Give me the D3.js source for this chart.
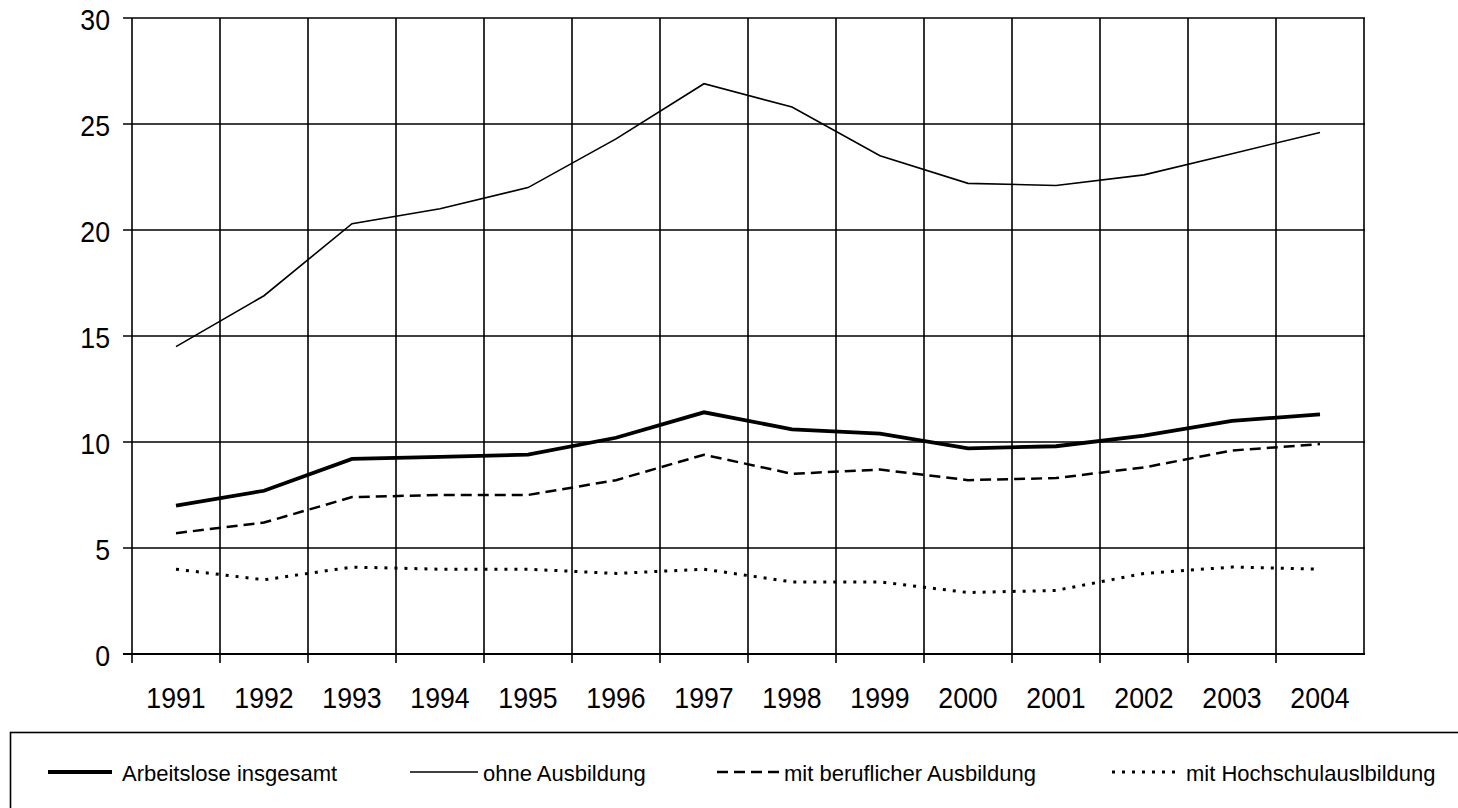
<!DOCTYPE html>
<html>
<head>
<meta charset="utf-8">
<script src="https://cdn.jsdelivr.net/npm/d3@7"></script>
<style>
  html, body { margin: 0; padding: 0; background: #fff; }
  svg { display: block; }
  text { font-family: "Liberation Sans", Arial, sans-serif; fill: #000; }
</style>
</head>
<body>
<svg id="chart" width="1458" height="808"></svg>
<script>
const years = [1991, 1992, 1993, 1994, 1995, 1996, 1997, 1998, 1999, 2000, 2001, 2002, 2003, 2004];
const insgesamt = [7.0, 7.7, 9.2, 9.3, 9.4, 10.2, 11.4, 10.6, 10.4, 9.7, 9.8, 10.3, 11.0, 11.3];
const ohneAusbildung = [14.5, 16.9, 20.3, 21.0, 22.0, 24.3, 26.9, 25.8, 23.5, 22.2, 22.1, 22.6, 23.6, 24.6];
const beruflicheAusbildung = [5.7, 6.2, 7.4, 7.5, 7.5, 8.2, 9.4, 8.5, 8.7, 8.2, 8.3, 8.8, 9.6, 9.9];
const hochschulAusbildung = [4.0, 3.5, 4.1, 4.0, 4.0, 3.8, 4.0, 3.4, 3.4, 2.9, 3.0, 3.8, 4.1, 4.0];
const yTicks = [0, 5, 10, 15, 20, 25, 30];
const seriesNames = ["Arbeitslose insgesamt", "ohne Ausbildung", "mit beruflicher Ausbildung", "mit Hochschulauslbildung"];

const series = [
  { name: seriesNames[0], values: insgesamt, width: 3.8, dash: null },
  { name: seriesNames[1], values: ohneAusbildung, width: 1.6, dash: null },
  { name: seriesNames[2], values: beruflicheAusbildung, width: 2.5, dash: "11,6" },
  { name: seriesNames[3], values: hochschulAusbildung, width: 3, dash: "3,7" }
];

const svg = d3.select("#chart");
const pLeft = 132, pRight = 1364, pTop = 18, pBottom = 654;

const x = d3.scaleBand().domain(years).range([pLeft, pRight]).padding(0);
const y = d3.scaleLinear().domain([0, 30]).range([pBottom, pTop]);
const cx = d => x(d) + x.bandwidth() / 2;

// horizontal gridlines (with left tick)
svg.append("g").selectAll("line").data(yTicks).join("line")
  .attr("x1", pLeft - 9).attr("x2", pRight + 1)
  .attr("y1", d => y(d)).attr("y2", d => y(d))
  .attr("stroke", "#000").attr("stroke-width", d => d === 0 ? 2 : 1.6);

// vertical gridlines at band boundaries (extending as ticks below axis)
const bounds = years.map(d => x(d)).concat([x(years[years.length - 1]) + x.bandwidth()]);
svg.append("g").selectAll("line").data(bounds).join("line")
  .attr("x1", d => d).attr("x2", d => d)
  .attr("y1", pTop).attr("y2", (d, i) => i === bounds.length - 1 ? pBottom : pBottom + 9)
  .attr("stroke", "#000").attr("stroke-width", 1.6);

// y axis labels
const yAxis = d3.axisLeft(y).tickValues(yTicks).tickSize(0).tickPadding(0).tickFormat(d3.format("d"));
const yg = svg.append("g").attr("transform", `translate(${pLeft},0)`).call(yAxis);
yg.select(".domain").remove();
yg.selectAll("text")
  .attr("x", null).attr("dy", null)
  .attr("transform", "translate(-22,11) scale(0.92,1)")
  .style("font-size", "29px").style("font-family", "'Liberation Sans', Arial, sans-serif")
  .attr("text-anchor", "end").attr("fill", "#000");

// x axis labels
const xAxis = d3.axisBottom(x).tickSize(0).tickPadding(0);
const xg = svg.append("g").attr("transform", `translate(0,${pBottom})`).call(xAxis);
xg.select(".domain").remove();
xg.selectAll("text")
  .attr("y", null).attr("dy", null)
  .attr("transform", "translate(0,54) scale(0.92,1)")
  .style("font-size", "29px").style("font-family", "'Liberation Sans', Arial, sans-serif")
  .attr("fill", "#000");

// lines
const line = d3.line().x((v, i) => cx(years[i])).y(v => y(v));
svg.append("g").selectAll("path").data(series).join("path")
  .attr("d", d => line(d.values))
  .attr("fill", "none").attr("stroke", "#000")
  .attr("stroke-width", d => d.width)
  .attr("stroke-dasharray", d => d.dash)
  .attr("stroke-linejoin", "miter");

// legend
svg.append("rect").attr("x", 10.5).attr("y", 732.5).attr("width", 1500).attr("height", 120)
  .attr("fill", "none").attr("stroke", "#000").attr("stroke-width", 1.6);

const legendPos = [
  { x1: 48, x2: 112, tx: 122 },
  { x1: 410, x2: 478, tx: 483 },
  { x1: 717, x2: 780, tx: 784 },
  { x1: 1112, x2: 1177, tx: 1186 }
];
const lg = svg.append("g").selectAll("g").data(series).join("g");
lg.append("line")
  .attr("x1", (d, i) => legendPos[i].x1).attr("x2", (d, i) => legendPos[i].x2)
  .attr("y1", 772).attr("y2", 772)
  .attr("stroke", "#000").attr("stroke-width", d => d.width)
  .attr("stroke-dasharray", d => d.dash);
lg.append("text")
  .attr("x", (d, i) => legendPos[i].tx).attr("y", 781)
  .style("font-size", "22px")
  .text(d => d.name);
</script>
</body>
</html>
